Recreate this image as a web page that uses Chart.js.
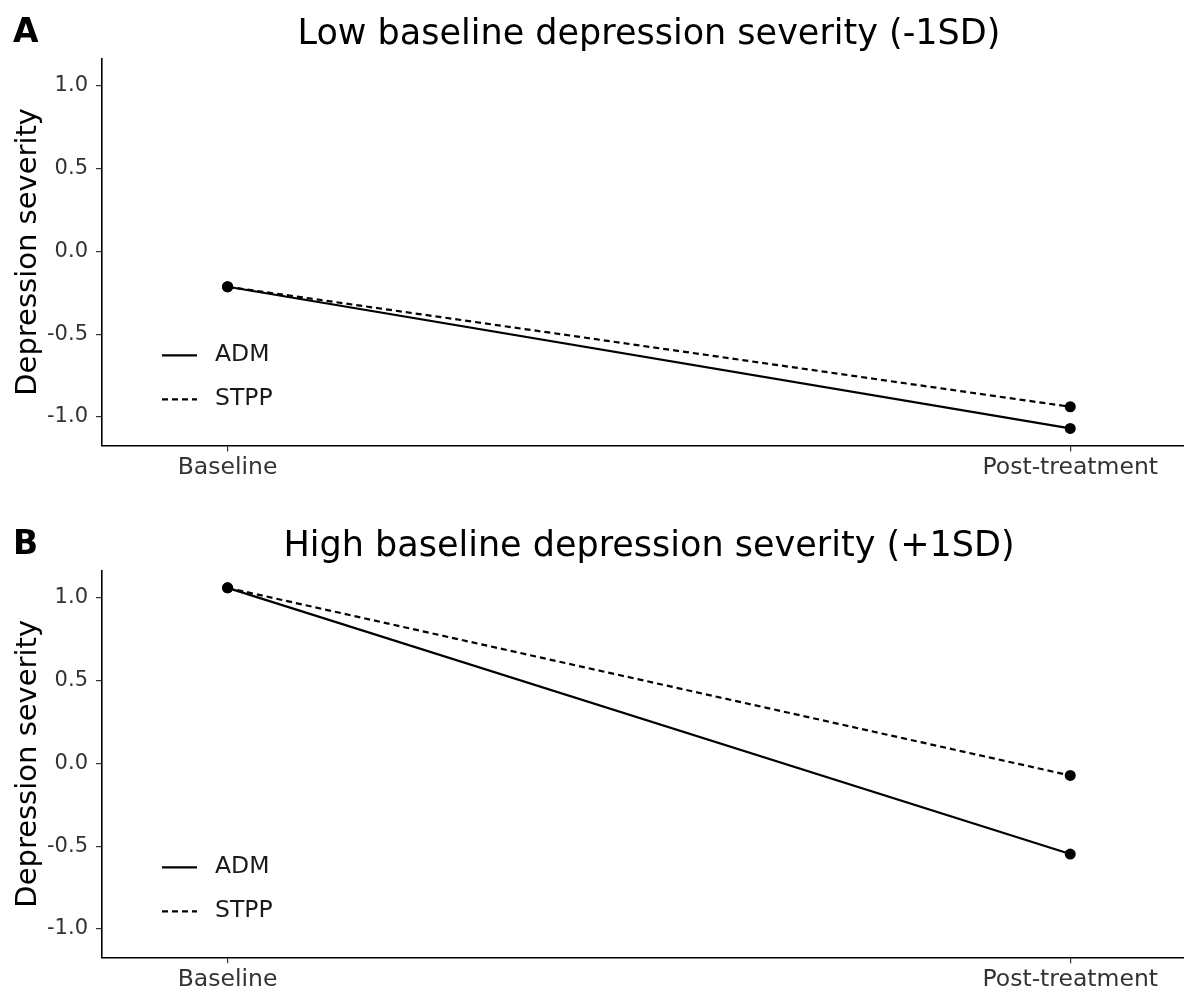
<!DOCTYPE html>
<html>
<head>
<meta charset="utf-8">
<script src="https://cdn.jsdelivr.net/npm/chart.js@4"></script>
<style>
  html, body { margin: 0; padding: 0; background: #ffffff; }
  #wrap { position: relative; width: 1184px; height: 990px; background: #fff; overflow: hidden; }
  canvas { position: absolute; left: 0; }
</style>
</head>
<body>
<div id="wrap">
  <canvas id="chartA" width="1184" height="512" style="top:0px"></canvas>
  <canvas id="chartB" width="1184" height="478" style="top:512px"></canvas>
</div>
<script>
// ---- Data ----
const categories = ['Baseline', 'Post-treatment'];
const seriesNames = ['ADM', 'STPP'];
const lowADM   = [-0.213, -1.069];
const lowSTPP  = [-0.213, -0.938];
const highADM  = [1.061, -0.548];
const highSTPP = [1.061, -0.073];
const yTicks      = [-1.0, -0.5, 0.0, 0.5, 1.0];
const yTickLabels = ['-1.0', '-0.5', '0.0', '0.5', '1.0'];
const panelTitles = ['Low baseline depression severity (-1SD)', 'High baseline depression severity (+1SD)'];
const panelTags = ['A', 'B'];
const yAxisTitle = 'Depression severity';

const FONT = "'DejaVu Sans', 'Liberation Sans', sans-serif";

function toPoints(arr) { return arr.map((v, i) => ({ x: i, y: v })); }

const insideLegend = {
  id: 'insideLegend',
  afterDatasetsDraw(chart) {
    const ctx = chart.ctx;
    const a = chart.chartArea;
    const rows = [a.top + 297, a.top + 341];
    ctx.save();
    chart.data.datasets.forEach((ds, i) => {
      const y = rows[i];
      ctx.beginPath();
      ctx.setLineDash(ds.borderDash || []);
      ctx.lineWidth = ds.borderWidth;
      ctx.strokeStyle = ds.borderColor;
      ctx.lineCap = 'butt';
      ctx.moveTo(a.left + 60, y);
      ctx.lineTo(a.left + 95, y);
      ctx.stroke();
      ctx.setLineDash([]);
      ctx.fillStyle = '#1a1a1a';
      ctx.font = '23.5px ' + FONT;
      ctx.textAlign = 'left';
      ctx.textBaseline = 'middle';
      ctx.fillText(ds.label, a.left + 113, y);
    });
    ctx.restore();
  }
};

const panelTag = {
  id: 'panelTag',
  afterLayout(chart) {
    if (chart.titleBlock) { chart.titleBlock.left += 6; chart.titleBlock.right += 6; }
  },
  afterDraw(chart, args, opts) {
    const ctx = chart.ctx;
    ctx.save();
    ctx.fillStyle = '#000';
    ctx.font = 'bold 33px ' + FONT;
    ctx.textAlign = 'left';
    ctx.textBaseline = 'middle';
    ctx.fillText(opts.text, 13, 33);
    ctx.restore();
  }
};

function makeChart(id, title, tag, adm, stpp, bottomHeight) {
  return new Chart(document.getElementById(id), {
    type: 'line',
    data: {
      datasets: [
        { label: seriesNames[0], data: toPoints(adm), borderColor: '#000', backgroundColor: '#000',
          borderWidth: 2.2, pointRadius: 5.5, pointBackgroundColor: '#000', pointBorderWidth: 0, tension: 0 },
        { label: seriesNames[1], data: toPoints(stpp), borderColor: '#000', backgroundColor: '#000',
          borderWidth: 2.2, borderDash: [6, 4], pointRadius: 5.5, pointBackgroundColor: '#000', pointBorderWidth: 0, tension: 0 }
      ]
    },
    options: {
      responsive: false,
      animation: false,
      devicePixelRatio: 1,
      layout: { autoPadding: false, padding: { left: 0, right: 0, top: 0, bottom: 0 } },
      plugins: {
        legend: { display: false },
        tooltip: { enabled: false },
        title: {
          display: true, text: title, fullSize: false, align: 'center', color: '#000',
          font: { family: FONT, size: 35, weight: 'normal', lineHeight: 1.2 },
          padding: { top: 14, bottom: 2.3 }
        },
        panelTag: { text: tag }
      },
      scales: {
        x: {
          type: 'linear', min: -0.149, max: 1.135,
          afterBuildTicks: (s) => { s.ticks = categories.map((c, i) => ({ value: i })); },
          afterFit: (s) => { s.height = bottomHeight; },
          ticks: {
            callback: (v) => categories[v], color: '#333', padding: 2,
            font: { family: FONT, size: 23.5 }, maxRotation: 0, autoSkip: false
          },
          grid: { drawOnChartArea: false, drawTicks: true, tickLength: 6, color: '#333', lineWidth: 1.2 },
          border: { display: true, color: '#000', width: 1.6 }
        },
        y: {
          type: 'linear', min: -1.172, max: 1.167,
          afterBuildTicks: (s) => { s.ticks = yTicks.map(v => ({ value: v })); },
          afterFit: (s) => { s.width = 102; },
          ticks: {
            callback: (v) => yTickLabels[yTicks.indexOf(v)], color: '#333', padding: 8,
            font: { family: FONT, size: 21 }, autoSkip: false
          },
          title: {
            display: true, text: yAxisTitle, color: '#000',
            font: { family: FONT, size: 29, lineHeight: 1.2 }, padding: { top: 11, bottom: 0 }
          },
          grid: { drawOnChartArea: false, drawTicks: true, tickLength: 6, color: '#333', lineWidth: 1.2 },
          border: { display: true, color: '#000', width: 1.6 }
        }
      }
    },
    plugins: [insideLegend, panelTag]
  });
}

makeChart('chartA', panelTitles[0], panelTags[0], lowADM, lowSTPP, 512 - 445.5);
makeChart('chartB', panelTitles[1], panelTags[1], highADM, highSTPP, 478 - 445.3);
</script>
</body>
</html>
